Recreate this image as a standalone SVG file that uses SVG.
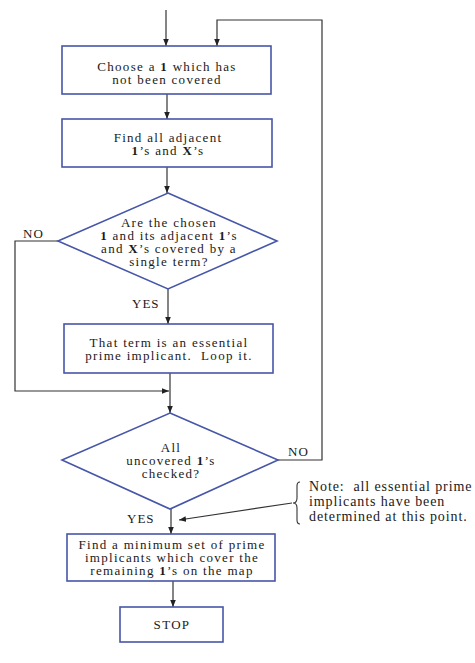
<svg xmlns="http://www.w3.org/2000/svg" width="475" height="663" viewBox="0 0 475 663">
<defs>
<marker id="ah" viewBox="0 0 10 10" refX="10" refY="5" markerWidth="7" markerHeight="7" markerUnits="userSpaceOnUse" orient="auto">
<path d="M0,1 L10,5 L0,9 z" fill="#222"/>
</marker>
<style>
.node{fill:#fff;stroke:#4656a8;stroke-width:1.6}
.t{font-family:"Liberation Serif","Times New Roman",serif;font-size:13px;letter-spacing:1.3px;fill:#1a1a1a;text-anchor:middle}
.tl{font-family:"Liberation Serif","Times New Roman",serif;font-size:13px;letter-spacing:1px;fill:#1a1a1a}
.nt{font-family:"Liberation Serif","Times New Roman",serif;font-size:14px;letter-spacing:0.9px;fill:#1a1a1a}
.b{font-weight:bold}
.ca{fill:none;stroke:#333;stroke-width:1.2;marker-end:url(#ah)}
</style>
</defs>
<rect width="475" height="663" fill="#fff"/>
<g id="connectors">
<line class="ca" x1="166" y1="10" x2="166" y2="46"/>
<polyline class="ca" points="278,460 322,460 322,20 217,20 217,46"/>
<line class="ca" x1="167" y1="94" x2="167" y2="119"/>
<line class="ca" x1="167" y1="167" x2="167" y2="193"/>
<polyline class="ca" points="58,241 15,241 15,391 169,391"/>
<line class="ca" x1="168" y1="289" x2="168" y2="324"/>
<line class="ca" x1="170" y1="373" x2="170" y2="413"/>
<line class="ca" x1="171" y1="509" x2="171" y2="534"/>
<line class="ca" x1="173" y1="581" x2="173" y2="607"/>
<line class="ca" x1="292" y1="503" x2="179" y2="520"/>
<text class="tl" x="23" y="238">NO</text>
<text class="tl" x="132" y="308">YES</text>
<text class="tl" x="288" y="456">NO</text>
<text class="tl" x="127" y="523">YES</text>
</g>
<g id="n1">
<rect class="node" x="62" y="46" width="209" height="48"/>
<text class="t"><tspan x="167" y="71">Choose a <tspan class="b">1</tspan> which has</tspan><tspan x="167" y="84">not been covered</tspan></text>
</g>
<g id="n2">
<rect class="node" x="62" y="119" width="210" height="48"/>
<text class="t"><tspan x="168" y="142">Find all adjacent</tspan><tspan x="168" y="155"><tspan class="b">1</tspan>’s and <tspan class="b">X</tspan>’s</tspan></text>
</g>
<g id="d1">
<polygon class="node" points="168,193 277,241 168,289 58,241"/>
<text class="t"><tspan x="169" y="227">Are the chosen</tspan><tspan x="169" y="240"><tspan class="b">1</tspan> and its adjacent <tspan class="b">1</tspan>’s</tspan><tspan x="169" y="253">and <tspan class="b">X</tspan>’s covered by a</tspan><tspan x="169" y="266">single term?</tspan></text>
</g>
<g id="n3">
<rect class="node" x="64" y="324" width="209" height="49"/>
<text class="t" xml:space="preserve"><tspan x="169" y="347">That term is an essential</tspan><tspan x="169" y="360">prime implicant.  Loop it.</tspan></text>
</g>
<g id="d2">
<polygon class="node" points="170,413 278,460 170,509 62,460"/>
<text class="t"><tspan x="171" y="452">All</tspan><tspan x="171" y="465">uncovered <tspan class="b">1</tspan>’s</tspan><tspan x="171" y="478">checked?</tspan></text>
</g>
<g id="note">
<path d="M300,482 q-3,0 -3,4 v12 q0,5 -4,5 q4,0 4,5 v12 q0,4 3,4" fill="none" stroke="#333" stroke-width="1.1"/>
<text class="nt" xml:space="preserve"><tspan x="309" y="491">Note:  all essential prime</tspan><tspan x="309" y="506">implicants have been</tspan><tspan x="309" y="521">determined at this point.</tspan></text>
</g>
<g id="n4">
<rect class="node" x="67" y="534" width="208" height="47"/>
<text class="t"><tspan x="172" y="549">Find a minimum set of prime</tspan><tspan x="172" y="562">implicants which cover the</tspan><tspan x="172" y="575">remaining <tspan class="b">1</tspan>’s on the map</tspan></text>
</g>
<g id="stop">
<rect class="node" x="120" y="607" width="103" height="35"/>
<text class="t" x="172" y="629">STOP</text>
</g>
</svg>
